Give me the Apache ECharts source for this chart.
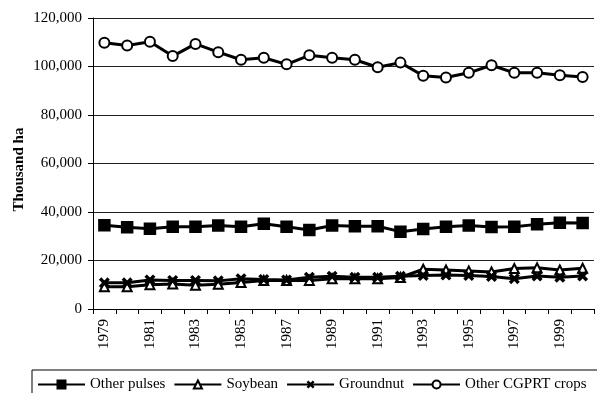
<!DOCTYPE html>
<html>
<head>
<meta charset="utf-8">
<script src="https://cdn.jsdelivr.net/npm/echarts@6/dist/echarts.min.js"></script>
<style>html,body{margin:0;padding:0;background:#fff;}#c{width:597px;height:393px;}</style>
</head>
<body>
<div id="c"></div>
<script>
const years = ['1979','1980','1981','1982','1983','1984','1985','1986','1987','1988','1989','1990','1991','1992','1993','1994','1995','1996','1997','1998','1999','2000'];
const otherPulses = [34500,33700,33100,33900,33900,34400,33900,35200,33900,32600,34400,34100,34100,31900,33000,33900,34400,33800,33900,34900,35600,35500];
const soybean = [9200,9200,10000,10300,9800,10200,10900,11800,11800,11800,12500,12500,12500,13000,16400,16100,15700,15300,16700,17000,16100,16800];
const groundnut = [10800,10800,12000,11800,11800,11600,12500,12200,12000,13100,13500,13100,13100,13500,13800,14000,13800,13400,12500,13600,13100,13600];
const otherCGPRT = [109800,108700,110200,104300,109300,105900,102800,103600,100900,104600,103600,102800,99700,101600,96200,95500,97400,100500,97400,97400,96400,95700];
const yTicks = [0,20000,40000,60000,80000,100000,120000];
const seriesNames = ['Other pulses','Soybean','Groundnut','Other CGPRT crops'];

const FONT = "'Liberation Serif','Times New Roman',serif";
const xPath = 'path://M0,2.2L2.2,0L5,2.8L7.8,0L10,2.2L7.2,5L10,7.8L7.8,10L5,7.2L2.2,10L0,7.8L2.8,5Z';

function mk(name, data, symbol, size, extra) {
  return Object.assign({
    name: name, type: 'line', data: data,
    symbol: symbol, symbolSize: size,
    lineStyle: {color: '#000', width: 3},
    itemStyle: {color: '#000', borderColor: '#000', borderWidth: 2.5},
    emphasis: {disabled: true},
    animation: false
  }, extra || {});
}

const chart = echarts.init(document.getElementById('c'), null, {renderer: 'canvas'});
chart.setOption({
  animation: false,
  backgroundColor: '#fff',
  textStyle: {fontFamily: FONT, color: '#000'},
  grid: {left: 93, top: 18, right: 3, bottom: 84, containLabel: false},
  legend: {
    data: seriesNames,
    left: 32, top: 370, width: 900,
    orient: 'horizontal',
    borderColor: '#000', borderWidth: 1, borderRadius: 0,
    padding: [7, 30, 7, 5],
    itemGap: 8, itemWidth: 47, itemHeight: 10,
    textStyle: {fontFamily: FONT, fontSize: 15, color: '#000'}
  },
  xAxis: {
    type: 'category', data: years, boundaryGap: true,
    axisLine: {lineStyle: {color: '#000', width: 1}},
    axisTick: {show: true, interval: 0, length: 5, lineStyle: {color: '#000'}},
    axisLabel: {interval: 1, rotate: 90, margin: 10, fontFamily: FONT, fontSize: 15, color: '#000'},
    splitLine: {show: false}
  },
  yAxis: {
    type: 'value', min: yTicks[0], max: yTicks[yTicks.length - 1], interval: yTicks[1] - yTicks[0],
    name: 'Thousand ha', nameLocation: 'middle', nameGap: 66, nameRotate: 90, nameMoveOverlap: false,
    nameTextStyle: {fontFamily: FONT, fontSize: 15, fontWeight: 'bold', color: '#000', padding: [0, 12, 0, 0]},
    axisLine: {show: true, lineStyle: {color: '#000', width: 1}},
    axisTick: {show: true, length: 5, lineStyle: {color: '#000'}},
    axisLabel: {margin: 11, fontFamily: FONT, fontSize: 15, color: '#000',
      formatter: v => v.toLocaleString('en-US')},
    splitLine: {show: true, lineStyle: {color: '#222', width: 1}}
  },
  series: [
    mk(seriesNames[0], otherPulses, 'rect', 10),
    mk(seriesNames[1], soybean, 'emptyTriangle', 9),
    mk(seriesNames[2], groundnut, xPath, 11, {itemStyle: {color: '#000', borderWidth: 0}}),
    mk(seriesNames[3], otherCGPRT, 'emptyCircle', 10)
  ]
});
</script>
</body>
</html>
